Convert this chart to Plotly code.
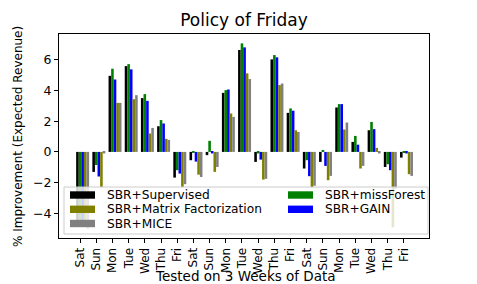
import plotly.graph_objects as go

days = ["Sat", "Sun", "Mon", "Tue", "Wed", "Thu", "Fri"] * 3

series_names = ["SBR+Supervised", "SBR+missForest", "SBR+GAIN",
                "SBR+Matrix Factorization", "SBR+MICE"]
series_colors = ["#000000", "#008000", "#0000ff", "#808000", "#808080"]

supervised = [-4.60, -1.30, 4.95, 5.58, 3.50, 1.67, -1.67,
              -0.54, -0.21, 3.84, 6.63, -0.65, 6.02, 2.54,
              -1.08, -0.65, 2.89, 0.65, 1.41, -0.98, -0.37]
missforest = [-4.70, -0.85, 5.41, 5.71, 3.76, 2.07, -1.19,
              -0.05, 0.72, 4.02, 7.06, -0.10, 6.30, 2.83,
              -0.54, 0.10, 3.11, 1.04, 1.95, -0.80, -0.05]
gain = [-4.75, -1.60, 4.71, 5.37, 3.32, 1.85, -1.41,
        -0.63, -0.10, 4.06, 6.80, -0.50, 6.15, 2.68,
        -1.58, -0.91, 3.11, 0.47, 1.48, -1.19, -0.10]
matrix_fact = [-4.85, -2.30, 3.19, 3.43, 1.20, 0.85, -2.30,
               -1.48, -1.30, 2.50, 5.11, -1.80, 4.35, 1.41,
               -2.35, -1.84, 1.46, -1.08, 0.26, -4.90, -1.45]
mice = [-4.99, -0.10, 3.19, 3.69, 1.56, 0.78, -2.10,
        -1.63, -0.98, 2.28, 4.74, -1.75, 4.45, 1.30,
        -2.20, -1.56, 1.91, -0.91, -0.10, -2.40, -1.56]

series_values = [supervised, missforest, gain, matrix_fact, mice]

y_ticks = [-4, -2, 0, 2, 4, 6]

# legend layout (matplotlib ncol=2, column-major)
legend_order = ["SBR+Supervised", "SBR+Matrix Factorization", "SBR+MICE",
                "SBR+missForest", "SBR+GAIN"]

W, H = 477, 284
L, R, T, B = 59, 48, 34, 46
PW, PH = W - L - R, H - T - B
FONT = "DejaVu Sans"

def px_x(px):
    return (px - L) / PW

def px_y(py):
    return (H - B - py) / PH

bar_w = 0.16
x_idx = list(range(len(days)))

fig = go.Figure()
for i, (name, col, vals) in enumerate(zip(series_names, series_colors, series_values)):
    fig.add_trace(go.Bar(
        x=x_idx, y=vals, name=name, width=bar_w,
        offset=-0.24 + i * bar_w,
        marker=dict(color=col, line=dict(width=0)),
        showlegend=False,
    ))

shapes = []
annotations = []

# legend frame
shapes.append(dict(type="rect", xref="paper", yref="paper",
                   x0=px_x(64), x1=px_x(428), y0=px_y(234), y1=px_y(187),
                   fillcolor="rgba(255,255,255,0.8)",
                   line=dict(color="#cccccc", width=1), layer="above"))
row_y = [195, 209.3, 223.5]
col_x = [(70, 95, 105), (288, 313, 323)]
for k, name in enumerate(legend_order):
    c = 0 if k < 3 else 1
    r = k if k < 3 else k - 3
    hx0, hx1, tx = col_x[c]
    cy = row_y[r]
    color = series_colors[series_names.index(name)]
    shapes.append(dict(type="rect", xref="paper", yref="paper",
                       x0=px_x(hx0), x1=px_x(hx1),
                       y0=px_y(cy + 3.7), y1=px_y(cy - 3.7),
                       fillcolor=color, line=dict(width=0), layer="above"))
    annotations.append(dict(text=name, xref="paper", yref="paper",
                            x=px_x(tx), y=px_y(cy), xanchor="left", yanchor="middle",
                            showarrow=False, font=dict(family=FONT, size=12.2, color="black")))

# axis titles
annotations.append(dict(text="Tested on 3 Weeks of Data", xref="paper", yref="paper",
                        x=px_x(245), y=px_y(275.5), xanchor="center", yanchor="middle",
                        showarrow=False, font=dict(family=FONT, size=13.5, color="black")))
annotations.append(dict(text="% Improvement (Expected Revenue)", xref="paper", yref="paper",
                        x=px_x(18), y=px_y(137), xanchor="center", yanchor="middle",
                        textangle=-90, showarrow=False,
                        font=dict(family=FONT, size=12, color="black")))

fig.update_layout(
    width=W, height=H,
    margin=dict(l=L, r=R, t=T, b=B, pad=0, autoexpand=False),
    paper_bgcolor="white", plot_bgcolor="white",
    barmode="overlay",
    title=dict(text="Policy of Friday", x=(L + 185) / W, xanchor="center",
               y=1 - 20 / H, yanchor="middle", yref="container",
               font=dict(family=FONT, size=17, color="black")),
    font=dict(family=FONT, color="black"),
    shapes=shapes, annotations=annotations,
)
fig.update_xaxes(range=[-1.30, 21.55], tickmode="array", tickvals=x_idx, ticktext=days,
                 tickangle=-90, ticks="outside", ticklen=4, tickcolor="black",
                 showline=True, linecolor="black", linewidth=1, mirror=True,
                 showgrid=False, zeroline=False, automargin=False,
                 tickfont=dict(family=FONT, size=12, color="black"))
fig.update_yaxes(range=[-5.60, 7.67], tickmode="array", tickvals=y_ticks,
                 ticks="outside", ticklen=4, tickcolor="black",
                 showline=True, linecolor="black", linewidth=1, mirror=True,
                 showgrid=False, zeroline=False, automargin=False,
                 tickfont=dict(family=FONT, size=12.5, color="black"))

fig.write_html("out.html", config={"displayModeBar": False},
               post_script="document.body.style.margin='0';document.body.style.overflow='hidden';")
